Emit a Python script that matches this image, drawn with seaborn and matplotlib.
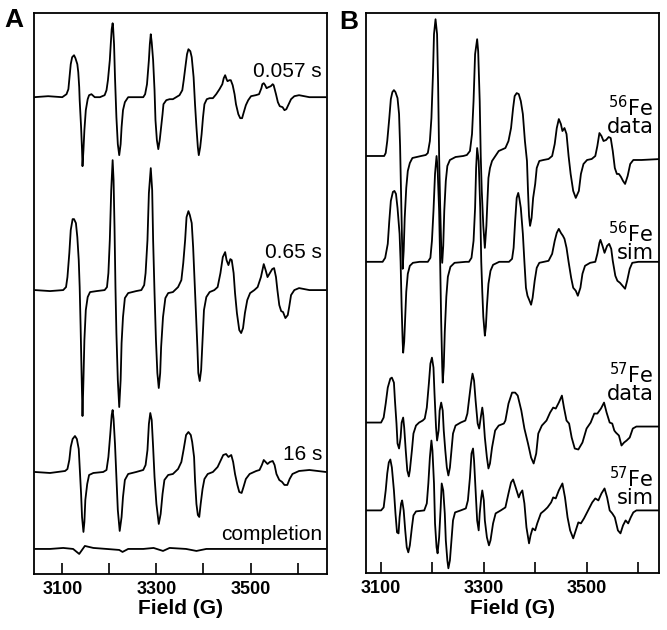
import pandas as pd
import matplotlib
matplotlib.use("Agg")
import matplotlib.pyplot as plt
import seaborn as sns


# DATA  (field in G, derivative intensity in a.u.)

a_0057 = [(3040, 0), (3070, 1), (3100, 0), (3109, 3), (3113, 8), (3116, 23), (3118, 33), (3121, 40),
          (3125, 42), (3128, 39), (3132, 33), (3134, 25), (3136, 10), (3137, -3), (3140, -30), (3142, -53),
          (3143, -69), (3145, -53), (3147, -33), (3150, -13), (3154, -2), (3157, 2), (3162, 3), (3169, 0),
          (3180, 0), (3190, 2), (3194, 7), (3197, 17), (3201, 37), (3203, 53), (3205, 68), (3207, 74),
          (3208, 70), (3210, 53), (3212, 20), (3215, -20), (3218, -47), (3221, -58), (3224, -47),
          (3226, -30), (3229, -13), (3233, -5), (3240, 0), (3272, 0), (3276, 3), (3280, 13), (3284, 37),
          (3286, 53), (3288, 63), (3290, 55), (3293, 37), (3296, 7), (3298, -23), (3301, -43), (3304, -52),
          (3307, -43), (3310, -30), (3313, -17), (3315, -7), (3321, -3), (3328, -2), (3335, -2), (3349, 2),
          (3355, 7), (3358, 17), (3362, 32), (3365, 43), (3368, 48), (3372, 46), (3375, 40), (3379, 20),
          (3382, -7), (3385, -30), (3388, -50), (3390, -58), (3393, -50), (3396, -37), (3399, -20),
          (3402, -7), (3407, -2), (3413, -1), (3420, -1), (3427, 3), (3434, 8), (3440, 13), (3443, 19),
          (3446, 22), (3449, 18), (3451, 16), (3455, 17), (3458, 17), (3462, 12), (3466, 3), (3469, -7),
          (3474, -17), (3478, -21), (3482, -21), (3485, -16), (3490, -8), (3495, -3), (3501, 1), (3511, 2),
          (3518, 3), (3523, 9), (3525, 13), (3528, 14), (3531, 12), (3534, 9), (3538, 10), (3543, 11),
          (3547, 13), (3549, 12), (3554, 3), (3558, -5), (3562, -9), (3568, -10), (3572, -13), (3576, -12),
          (3581, -7), (3586, -2), (3593, 1), (3603, 2), (3625, 0), (3660, 0)]

a_065 = [(3042, 0), (3074, -1), (3102, 0), (3108, 3), (3111, 13), (3115, 37), (3118, 60), (3122, 71),
         (3125, 71), (3129, 67), (3132, 53), (3135, 30), (3137, 3), (3139, -37), (3141, -83), (3143, -126),
         (3145, -90), (3147, -50), (3150, -20), (3154, -7), (3159, -2), (3173, -1), (3190, 0), (3195, 3),
         (3198, 17), (3201, 50), (3204, 100), (3207, 130), (3209, 110), (3211, 63), (3213, 3), (3215, -43),
         (3218, -90), (3221, -117), (3224, -90), (3226, -53), (3229, -27), (3233, -8), (3240, -3),
         (3257, -1), (3268, 0), (3274, 5), (3277, 17), (3281, 50), (3284, 97), (3288, 122), (3291, 100),
         (3293, 50), (3296, -3), (3299, -50), (3302, -83), (3305, -98), (3308, -83), (3310, -57),
         (3314, -27), (3319, -8), (3325, -3), (3335, -2), (3346, 3), (3353, 10), (3357, 27), (3361, 50),
         (3364, 73), (3368, 79), (3371, 75), (3375, 67), (3378, 43), (3381, 10), (3384, -23), (3387, -57),
         (3389, -83), (3392, -91), (3395, -80), (3398, -50), (3401, -20), (3406, -7), (3413, -2),
         (3423, 0), (3430, 3), (3436, 17), (3441, 33), (3446, 38), (3449, 30), (3453, 25), (3457, 31),
         (3460, 30), (3464, 17), (3467, -3), (3471, -23), (3476, -40), (3480, -43), (3484, -38),
         (3488, -23), (3493, -10), (3499, -3), (3508, 0), (3515, 3), (3522, 13), (3528, 26), (3532, 20),
         (3536, 13), (3541, 17), (3546, 21), (3550, 22), (3554, 13), (3557, 0), (3561, -15), (3565, -21),
         (3569, -22), (3574, -28), (3579, -25), (3582, -17), (3586, -5), (3593, 0), (3603, 2), (3625, 0),
         (3660, 0)]

a_16 = [(3042, 0), (3074, -1), (3106, 1), (3111, 3), (3115, 12), (3118, 25), (3122, 33), (3127, 36),
        (3131, 33), (3135, 23), (3137, 5), (3140, -22), (3142, -45), (3145, -60), (3147, -50), (3149, -28),
        (3153, -12), (3157, -3), (3166, -1), (3187, 0), (3194, 2), (3198, 15), (3202, 38), (3205, 57),
        (3207, 62), (3209, 53), (3212, 28), (3215, -5), (3218, -38), (3222, -59), (3226, -45), (3229, -25),
        (3233, -8), (3240, -2), (3257, 0), (3272, 2), (3277, 7), (3281, 22), (3284, 48), (3287, 59),
        (3290, 52), (3293, 25), (3296, -5), (3300, -32), (3305, -52), (3309, -42), (3313, -22), (3317, -8),
        (3325, -3), (3335, -2), (3346, 3), (3353, 10), (3358, 23), (3363, 37), (3368, 40), (3373, 37),
        (3376, 30), (3380, 15), (3382, -8), (3385, -32), (3388, -43), (3391, -45), (3394, -32), (3398, -17),
        (3402, -7), (3409, -2), (3420, 0), (3430, 5), (3437, 12), (3442, 17), (3448, 18), (3453, 15),
        (3459, 17), (3463, 10), (3467, -2), (3472, -13), (3476, -20), (3481, -21), (3485, -15), (3490, -7),
        (3498, -2), (3512, 1), (3519, 2), (3524, 7), (3528, 12), (3532, 10), (3536, 8), (3541, 10),
        (3547, 11), (3551, 7), (3555, -2), (3561, -8), (3567, -10), (3572, -13), (3578, -13), (3583, -7),
        (3589, -2), (3603, 1), (3625, 2), (3660, 0)]

a_completion = [(3042, 0), (3074, 0), (3102, 1), (3123, 0), (3136, -5), (3148, 3), (3166, 1), (3194, 0),
                (3221, -1), (3228, -3), (3240, 0), (3272, 0), (3294, 1), (3314, -2), (3328, 1), (3363, 0),
                (3385, -2), (3406, 0), (3455, 0), (3526, 0), (3597, 0), (3660, 0)]

b_56_data = [(3070, 0), (3106, 0), (3109, 3), (3112, 15), (3116, 38), (3119, 57), (3122, 64), (3125, 66),
             (3128, 64), (3132, 58), (3135, 42), (3137, 10), (3139, -40), (3141, -90), (3142, -113),
             (3144, -95), (3146, -62), (3149, -32), (3152, -15), (3156, -7), (3161, -2), (3178, 0),
             (3187, 1), (3191, 3), (3195, 15), (3198, 38), (3201, 82), (3203, 122), (3206, 137), (3209, 122),
             (3211, 72), (3213, 0), (3215, -50), (3217, -90), (3219, -107), (3221, -90), (3223, -55),
             (3226, -25), (3229, -10), (3234, -4), (3245, -1), (3260, 0), (3267, 1), (3273, 5), (3277, 22),
             (3280, 55), (3283, 102), (3287, 117), (3289, 105), (3292, 55), (3294, 0), (3296, -35),
             (3299, -70), (3302, -92), (3305, -70), (3307, -45), (3309, -22), (3312, -12), (3316, -5),
             (3329, 5), (3342, 8), (3348, 15), (3353, 28), (3357, 48), (3360, 60), (3364, 63), (3368, 62),
             (3372, 55), (3376, 42), (3380, 15), (3384, -5), (3386, -35), (3388, -60), (3390, -70),
             (3393, -62), (3396, -42), (3400, -28), (3403, -12), (3408, -5), (3416, -4), (3426, -3),
             (3433, 0), (3438, 12), (3442, 28), (3446, 37), (3450, 32), (3453, 25), (3457, 28), (3461, 22),
             (3465, 0), (3469, -18), (3474, -35), (3479, -42), (3485, -35), (3489, -18), (3494, -8),
             (3501, -4), (3510, -3), (3517, 0), (3521, 10), (3525, 23), (3529, 20), (3533, 15), (3538, 16),
             (3543, 19), (3547, 18), (3551, 5), (3555, -12), (3559, -18), (3563, -18), (3567, -21),
             (3571, -25), (3575, -28), (3580, -20), (3585, -8), (3591, -4), (3607, -4), (3645, -3)]

b_56_sim = [(3070, 0), (3103, 0), (3108, 4), (3113, 18), (3116, 41), (3119, 61), (3123, 70), (3126, 71),
            (3129, 68), (3132, 54), (3136, 28), (3138, 0), (3140, -45), (3142, -80), (3143, -91),
            (3145, -80), (3147, -55), (3149, -30), (3152, -12), (3156, -4), (3162, -1), (3175, 0),
            (3191, 0), (3196, 4), (3199, 21), (3202, 51), (3205, 88), (3208, 106), (3210, 94), (3213, 51),
            (3215, 0), (3217, -60), (3219, -105), (3220, -121), (3222, -105), (3224, -70), (3227, -35),
            (3230, -15), (3235, -5), (3243, -1), (3265, 0), (3271, 0), (3276, 4), (3280, 21), (3283, 54),
            (3285, 94), (3287, 114), (3290, 101), (3293, 54), (3295, 0), (3297, -30), (3299, -55),
            (3302, -74), (3304, -65), (3306, -45), (3309, -22), (3313, -9), (3318, -3), (3330, 0),
            (3349, 0), (3355, 3), (3358, 14), (3361, 41), (3364, 64), (3367, 69), (3369, 64), (3372, 54),
            (3376, 28), (3379, 0), (3382, -26), (3385, -34), (3389, -39), (3392, -43), (3395, -36),
            (3399, -19), (3403, -6), (3408, -1), (3417, 0), (3426, 1), (3433, 8), (3438, 21), (3442, 29),
            (3446, 33), (3450, 29), (3454, 26), (3457, 23), (3461, 14), (3465, 0), (3470, -16), (3474, -26),
            (3479, -29), (3483, -34), (3488, -26), (3492, -12), (3497, -4), (3507, -1), (3517, 0),
            (3521, 8), (3525, 19), (3527, 22), (3531, 16), (3535, 9), (3540, 16), (3544, 18), (3548, 13),
            (3551, 1), (3556, -14), (3560, -19), (3565, -21), (3570, -24), (3575, -27), (3579, -19),
            (3584, -7), (3589, -1), (3601, 0), (3645, 0)]

b_57_data = [(3071, 1), (3100, 1), (3105, 6), (3109, 20), (3113, 36), (3118, 45), (3121, 46), (3125, 41),
             (3127, 23), (3130, 0), (3132, -20), (3135, -25), (3138, -14), (3140, 1), (3143, 6), (3145, -4),
             (3148, -27), (3151, -47), (3154, -53), (3156, -47), (3160, -27), (3163, -10), (3168, -2),
             (3174, 1), (3181, 3), (3185, 5), (3189, 16), (3193, 40), (3196, 60), (3199, 66), (3202, 56),
             (3204, 30), (3207, -4), (3209, -17), (3212, -7), (3214, 13), (3217, 21), (3220, 13), (3222, -7),
             (3225, -27), (3228, -44), (3231, -52), (3234, -44), (3237, -27), (3240, -10), (3245, -2),
             (3255, 1), (3264, 3), (3268, 10), (3271, 23), (3275, 40), (3278, 50), (3281, 43), (3284, 23),
             (3288, 0), (3291, -5), (3294, 6), (3297, 16), (3299, 8), (3302, -14), (3306, -34), (3309, -45),
             (3312, -40), (3316, -24), (3322, -7), (3329, -2), (3339, 0), (3342, 3), (3348, 20), (3355, 31),
             (3361, 31), (3366, 28), (3373, 13), (3379, -5), (3386, -20), (3392, -34), (3397, -40),
             (3402, -30), (3406, -10), (3413, -2), (3422, 3), (3429, 11), (3435, 16), (3440, 15), (3446, 21),
             (3452, 28), (3456, 16), (3461, 3), (3466, 0), (3471, -14), (3477, -25), (3484, -26), (3492, -19),
             (3500, -5), (3508, 1), (3515, 10), (3521, 10), (3528, 15), (3534, 21), (3539, 11), (3545, 1),
             (3550, 0), (3554, -7), (3557, -9), (3563, -12), (3568, -22), (3573, -19), (3578, -17),
             (3584, -14), (3590, -5), (3597, -3), (3613, -3), (3645, -3)]

b_57_sim = [(3071, 0), (3100, 0), (3105, 3), (3109, 20), (3112, 37), (3115, 48), (3118, 51), (3121, 43),
            (3125, 20), (3128, -3), (3131, -22), (3134, -23), (3136, -7), (3139, 7), (3141, 10), (3144, 0),
            (3147, -20), (3150, -37), (3153, -42), (3156, -35), (3160, -17), (3163, -5), (3168, -1),
            (3184, 0), (3189, 7), (3192, 27), (3195, 53), (3198, 70), (3200, 60), (3203, 27), (3205, -13),
            (3208, -37), (3210, -43), (3213, -27), (3216, 3), (3218, 27), (3221, 20), (3224, -3),
            (3226, -30), (3229, -50), (3231, -58), (3234, -50), (3237, -30), (3240, -10), (3244, -2),
            (3255, 0), (3265, 2), (3269, 10), (3273, 33), (3276, 57), (3279, 62), (3281, 50), (3284, 20),
            (3287, -10), (3290, -20), (3292, -3), (3295, 13), (3297, 20), (3300, 10), (3302, -10),
            (3306, -27), (3310, -35), (3313, -30), (3318, -13), (3323, -3), (3333, 0), (3342, 3), (3348, 17),
            (3353, 28), (3357, 31), (3362, 23), (3368, 13), (3371, 17), (3375, 20), (3379, 7), (3383, -17),
            (3388, -33), (3391, -25), (3395, -18), (3400, -20), (3404, -13), (3411, -3), (3418, 0),
            (3424, 3), (3431, 8), (3435, 13), (3440, 12), (3446, 20), (3453, 27), (3458, 13), (3463, -7),
            (3468, -20), (3474, -28), (3479, -20), (3484, -12), (3489, -13), (3495, -8), (3503, 0),
            (3511, 8), (3517, 12), (3523, 10), (3529, 17), (3535, 22), (3540, 13), (3545, 0), (3550, -3),
            (3555, -7), (3561, -20), (3566, -23), (3571, -15), (3576, -10), (3581, -13), (3586, -7),
            (3591, -2), (3597, 0), (3645, 0)]

a_names = ["0.057 s", "0.65 s", "16 s", "completion"]
b_names = ["$^{56}$Fe\ndata", "$^{56}$Fe\nsim", "$^{57}$Fe\ndata", "$^{57}$Fe\nsim"]


# LAYOUT (vertical stacking of the spectra, label spots)

A_OFFSETS = [477, 284, 102, 25]
B_OFFSETS = [418, 312, 150, 63]
A_LABEL_Y = [503, 322, 119, 39]
B_LABEL_Y = [458, 332, 191, 86]


def build_frame(traces, names, offsets):
    frames = []
    for pairs, name, off in zip(traces, names, offsets):
        df = pd.DataFrame(pairs, columns=["field", "intensity"])
        df["y"] = df["intensity"] + off
        df["trace"] = name
        frames.append(df)
    return frames


def style_axis(ax, xlim):
    ax.set_xlim(*xlim)
    ax.set_ylim(0, 561)
    ax.set_yticks([])
    ax.set_ylabel("")
    ax.set_xticks([3100, 3300, 3500])
    ax.set_xticks([3200, 3400, 3600], minor=True)
    ax.tick_params(axis="x", which="both", direction="in", length=8, width=1.2,
                   bottom=True, top=False, pad=5, colors="black")
    for lab in ax.get_xticklabels():
        lab.set_fontweight("bold")
        lab.set_fontsize(13)
    ax.set_xlabel("Field (G)", fontsize=15, fontweight="bold", labelpad=1, color="black")
    for sp in ax.spines.values():
        sp.set_visible(True)
        sp.set_color("black")
        sp.set_linewidth(1.3)


sns.set_theme(style="white", rc={"text.color": "black", "axes.labelcolor": "black",
                                 "xtick.color": "black", "axes.edgecolor": "black"})
plt.rcParams["font.family"] = ["Liberation Sans", "DejaVu Sans"]
plt.rcParams["mathtext.default"] = "regular"

fig = plt.figure(figsize=(6.67, 6.3), dpi=100)
ax_a = fig.add_axes([0.051, 0.089, 0.439, 0.890])
ax_b = fig.add_axes([0.549, 0.090, 0.439, 0.889])

# Panel A: time course
for df in build_frame([a_0057, a_065, a_16, a_completion], a_names, A_OFFSETS):
    sns.lineplot(data=df, x="field", y="y", ax=ax_a, color="black", lw=1.3,
                 estimator=None, sort=False)
style_axis(ax_a, (3040, 3662))
for name, ly in zip(a_names, A_LABEL_Y):
    ax_a.text(3652, ly, name, ha="right", va="center", fontsize=15, color="black")

# Panel B: 56Fe / 57Fe data and simulations
for df in build_frame([b_56_data, b_56_sim, b_57_data, b_57_sim], b_names, B_OFFSETS):
    sns.lineplot(data=df, x="field", y="y", ax=ax_b, color="black", lw=1.3,
                 estimator=None, sort=False)
style_axis(ax_b, (3071, 3641))
for name, ly in zip(b_names, B_LABEL_Y):
    ax_b.text(3630, ly, name, ha="right", va="center", fontsize=15, color="black",
              multialignment="right", linespacing=0.8, family=["DejaVu Sans"])

fig.text(0.006, 0.988, "A", fontsize=19, fontweight="bold", va="top", color="black")
fig.text(0.508, 0.984, "B", fontsize=19, fontweight="bold", va="top", color="black")

fig.savefig("out.png", dpi=100)
plt.close(fig)
